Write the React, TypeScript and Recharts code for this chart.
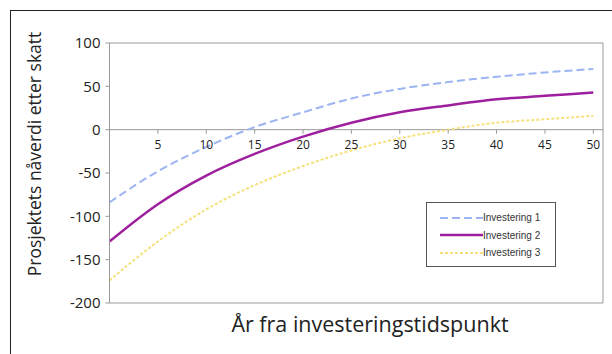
import React from 'react';
import { LineChart, Line, XAxis, YAxis, ReferenceArea, ReferenceDot, ReferenceLine } from 'recharts';

const years = [0, 5, 10, 15, 20, 25, 30, 35, 40, 45, 50];
const inv1 = [-84, -48, -20, 3, 20, 36, 47, 55, 61, 66, 70];
const inv2 = [-129, -86, -53, -28, -8, 8, 20, 28, 35, 39, 43];
const inv3 = [-174, -129, -92, -64, -42, -24, -10, 0, 8, 12, 16];
const xTicks = [5, 10, 15, 20, 25, 30, 35, 40, 45, 50];
const yTicks = [-200, -150, -100, -50, 0, 50, 100];
const seriesNames = ['Investering 1', 'Investering 2', 'Investering 3'];
const seriesColors = ['#9DB4F2', '#9E1F9E', '#F5E07A'];
const seriesWidths = [2, 2.5, 2];
const seriesDash = ['8 4', undefined, '3 2'];

const data = years.map((y, i) => ({ year: y, inv1: inv1[i], inv2: inv2[i], inv3: inv3[i] }));

const FONT = '"Open Sans", "Noto Sans", sans-serif';

const LegendBox = () => (
  <div style={{ position: 'absolute', left: 426, top: 202, width: 128, height: 57, paddingTop: 6, border: '1.5px solid #555', background: '#fff' }}>
    {seriesNames.map((n, i) => (
      <div key={i} style={{ display: 'flex', alignItems: 'center', height: 17.5, marginLeft: 13 }}>
        <svg width={43} height={6}>
          <line x1={0} y1={3} x2={43} y2={3} stroke={seriesColors[i]} strokeWidth={seriesWidths[i]} strokeDasharray={seriesDash[i]} />
        </svg>
        <span style={{ fontFamily: '"Liberation Sans", Arial, sans-serif', fontSize: 10, color: '#333' }}>{n}</span>
      </div>
    ))}
  </div>
);

const XTickDot = (label: number) => (props: any) => {
  const { cx, cy } = props;
  return (
    <g>
      <line x1={cx} y1={cy} x2={cx} y2={cy + 4} stroke="#999" strokeWidth={1} />
      <text x={cx} y={cy + 19} textAnchor="middle" fontSize={12} fontFamily={FONT} fill="#222">{label}</text>
    </g>
  );
};

export default function App() {
  return (
    <div style={{ position: 'absolute', left: 0, top: 0, width: 612, height: 354, background: '#fff', overflow: 'hidden' }}>
      <div style={{ position: 'absolute', left: 9.5, top: 9.5, width: 700, height: 400, borderTop: '1.3px solid #222', borderLeft: '1.3px solid #222' }} />
      <div style={{ position: 'absolute', left: 0, top: 0 }}>
        <LineChart width={612} height={354} data={data} margin={{ top: 43, right: 9, bottom: 51, left: 0 }}>
          <XAxis dataKey="year" type="number" domain={[0, 51]} hide />
          <YAxis
            type="number"
            domain={[-200, 100]}
            ticks={yTicks}
            width={109.5}
            axisLine={{ stroke: '#999', strokeWidth: 1 }}
            tickLine={{ stroke: '#999' }}
            tickSize={4}
            tickMargin={5}
            tick={{ fontSize: 15, fontFamily: FONT, fill: '#222' }}
            label={{
              content: () => (
                <text x={41} y={154} transform="rotate(-90 41 154)" textAnchor="middle" fontSize={17.5} fontFamily={FONT} fill="#222">
                  Prosjektets nåverdi etter skatt
                </text>
              ),
            }}
          />
          <ReferenceArea x1={0} x2={51} y1={-200} y2={100} fill="none" stroke="#999" strokeWidth={1} ifOverflow="visible" />
          <ReferenceLine y={0} stroke="#999" strokeWidth={1} />
          {xTicks.map((t) => (
            <ReferenceDot key={t} x={t} y={0} r={0} ifOverflow="visible" shape={XTickDot(t)} />
          ))}
          <Line name={seriesNames[0]} dataKey="inv1" type="monotone" stroke={seriesColors[0]} strokeWidth={seriesWidths[0]} strokeDasharray={seriesDash[0]} dot={false} isAnimationActive={false} />
          <Line name={seriesNames[1]} dataKey="inv2" type="monotone" stroke={seriesColors[1]} strokeWidth={seriesWidths[1]} dot={false} isAnimationActive={false} />
          <Line name={seriesNames[2]} dataKey="inv3" type="monotone" stroke={seriesColors[2]} strokeWidth={seriesWidths[2]} strokeDasharray={seriesDash[2]} dot={false} isAnimationActive={false} />
        </LineChart>
      </div>
      <LegendBox />
      <div style={{ position: 'absolute', left: 0, width: 740, top: 309, textAlign: 'center', fontFamily: FONT, fontSize: 21.5, color: '#222' }}>
        År fra investeringstidspunkt
      </div>
    </div>
  );
}
